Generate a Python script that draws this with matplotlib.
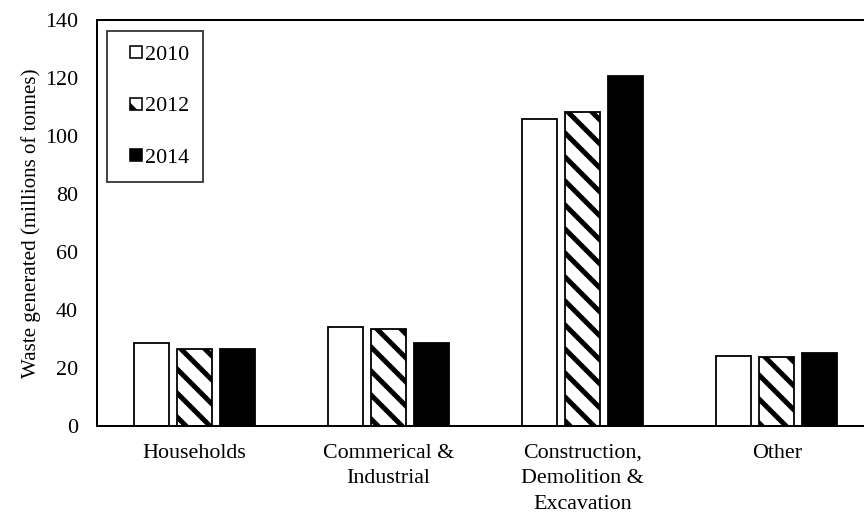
import numpy as np
import matplotlib
matplotlib.use("Agg")
import matplotlib.pyplot as plt
from matplotlib.patches import Rectangle
from matplotlib.legend_handler import HandlerPatch

categories = ["Households", "Commerical &\nIndustrial",
              "Construction,\nDemolition &\nExcavation", "Other"]
years = ["2010", "2012", "2014"]
waste_2010 = [28.5, 34.2, 106.0, 24.1]
waste_2012 = [26.4, 33.3, 108.3, 23.9]
waste_2014 = [26.4, 28.7, 120.7, 25.3]

plt.rcParams["font.family"] = ["Liberation Serif", "DejaVu Serif"]
plt.rcParams["hatch.linewidth"] = 5.0
plt.rcParams["hatch.color"] = "black"

FS = 22

# 72 dpi so that one hatch cell is 72 px and '\\' gives ~12 px stripes
fig = plt.figure(figsize=(12, 514 / 72), dpi=72)
ax = fig.add_axes([97 / 864, 88 / 514, (874 - 97) / 864, 406 / 514])

x = np.arange(len(categories))
width = 0.18
step = 0.221
styles = [dict(facecolor="white", hatch=None),
          dict(facecolor="white", hatch="\\"),
          dict(facecolor="black", hatch=None)]
series = [waste_2010, waste_2012, waste_2014]

handles = []
for i, (vals, st) in enumerate(zip(series, styles)):
    ax.bar(x + (i - 1) * step, vals, width, facecolor=st["facecolor"],
           edgecolor="black", linewidth=1.8, hatch=st["hatch"])
    handles.append(Rectangle((0, 0), 1, 1, facecolor=st["facecolor"],
                             edgecolor="black", linewidth=1.6,
                             hatch=st["hatch"]))

ax.set_xlim(-0.5, 3.5)
ax.set_ylim(0, 140)
ax.set_yticks(np.arange(0, 141, 20))
ax.set_xticks(x)
ax.set_xticklabels(categories, fontsize=FS, linespacing=1.45)
ax.tick_params(axis="y", length=0, pad=19, labelsize=FS)
ax.tick_params(axis="x", length=0, pad=18)
ax.set_ylabel("Waste generated (millions of tonnes)", fontsize=21, labelpad=4)

for side in ["top", "left", "bottom", "right"]:
    ax.spines[side].set_linewidth(2)
    ax.spines[side].set_color("black")


def small_square(legend, orig_handle, xdescent, ydescent, width, height, fontsize):
    s = 12
    return Rectangle((width - s - xdescent, (height - s) / 2 - ydescent), s, s)


leg = ax.legend(handles, years, loc="upper left",
                bbox_to_anchor=(107 / 864, 483 / 514),
                bbox_transform=fig.transFigure, borderaxespad=0,
                fontsize=FS, frameon=True, fancybox=False,
                handlelength=0.95, handleheight=0.6, handletextpad=0.14,
                labelspacing=1.45, borderpad=0.64,
                handler_map={Rectangle: HandlerPatch(patch_func=small_square)})
leg.get_frame().set_edgecolor("black")
leg.get_frame().set_linewidth(1.8)

fig.savefig("out.png", dpi=72)
